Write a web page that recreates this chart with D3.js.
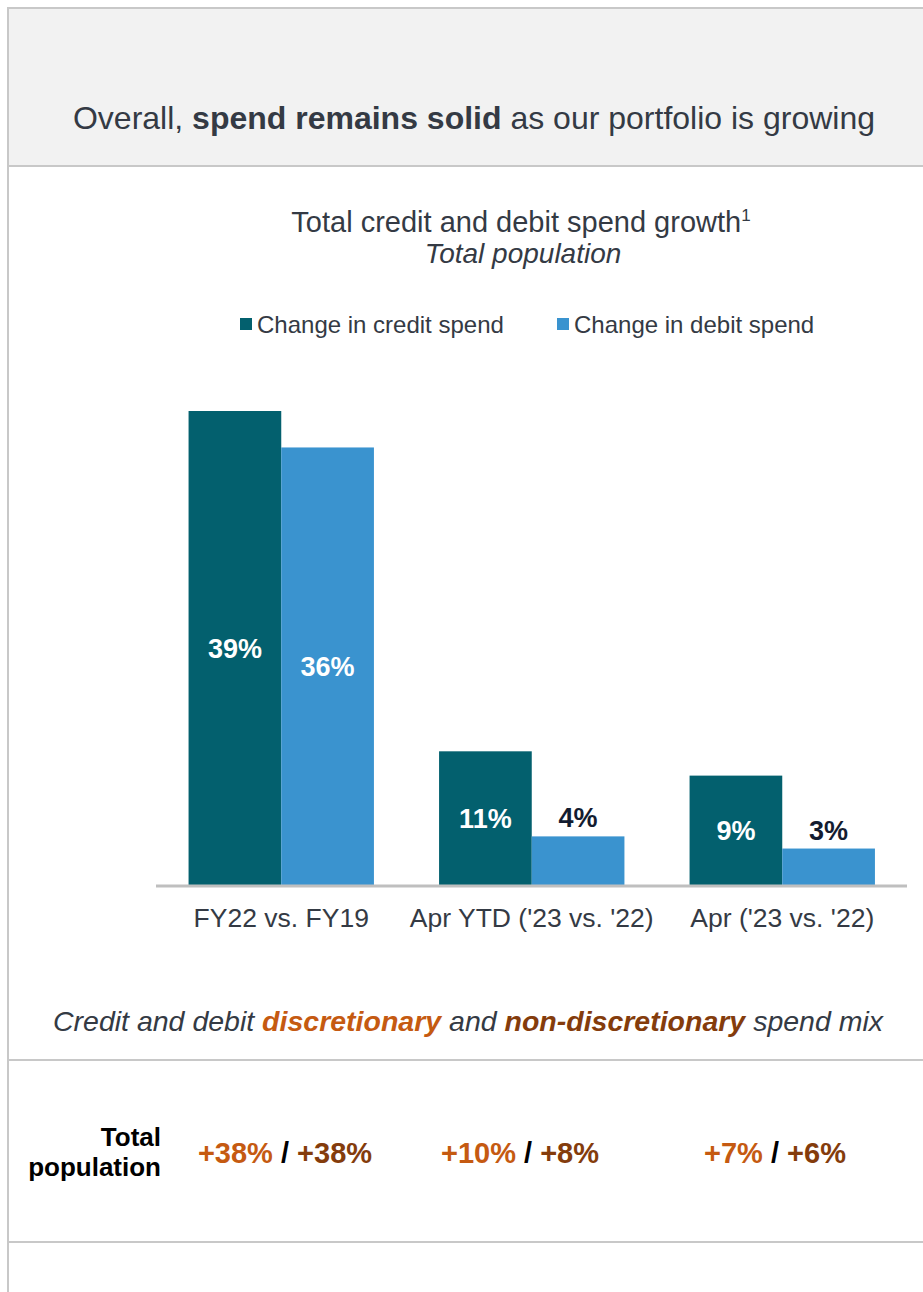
<!DOCTYPE html>
<html>
<head>
<meta charset="utf-8">
<script src="https://cdn.jsdelivr.net/npm/d3@7"></script>
<style>
  html, body { margin: 0; padding: 0; background: #fff; }
  svg { display: block; font-family: "Liberation Sans", Arial, sans-serif; }
</style>
</head>
<body>
<svg id="chart" width="923" height="1292"></svg>
<script>
// Spend growth by period
const categories = ["FY22 vs. FY19", "Apr YTD ('23 vs. '22)", "Apr ('23 vs. '22)"];
const seriesNames = ["Change in credit spend", "Change in debit spend"];
const creditValues = [39, 11, 9];
const debitValues = [36, 4, 3];
// Discretionary / non-discretionary mix per period
const discretionaryMix = [38, 10, 7];
const nonDiscretionaryMix = [38, 8, 6];

const colors = { credit: "#03606e", debit: "#3a93cf", text: "#343a44", rule: "#c8c8c8",
                 disc: "#c55a11", nondisc: "#843c0c" };

const svg = d3.select("#chart");
const W = 923, H = 1292;

// Header panel and frame
svg.append("rect").attr("x", 9).attr("y", 9).attr("width", W - 9).attr("height", 157).attr("fill", "#f2f2f2");
svg.append("line").attr("x1", 8).attr("x2", W).attr("y1", 8).attr("y2", 8).attr("stroke", colors.rule).attr("stroke-width", 2);
svg.append("line").attr("x1", 8).attr("x2", W).attr("y1", 166).attr("y2", 166).attr("stroke", colors.rule).attr("stroke-width", 2);
svg.append("line").attr("x1", 8).attr("x2", 8).attr("y1", 7).attr("y2", H).attr("stroke", colors.rule).attr("stroke-width", 2);
svg.append("line").attr("x1", 8).attr("x2", W).attr("y1", 1060).attr("y2", 1060).attr("stroke", colors.rule).attr("stroke-width", 2);
svg.append("line").attr("x1", 8).attr("x2", W).attr("y1", 1242).attr("y2", 1242).attr("stroke", colors.rule).attr("stroke-width", 2);

const headline = svg.append("text").attr("x", 474).attr("y", 129).attr("text-anchor", "middle")
  .attr("font-size", 32).attr("fill", colors.text);
headline.append("tspan").text("Overall, ");
headline.append("tspan").attr("font-weight", "bold").text("spend remains solid");
headline.append("tspan").text(" as our portfolio is growing");

// Chart titles
const title = svg.append("text").attr("x", 521).attr("y", 232).attr("text-anchor", "middle")
  .attr("font-size", 29).attr("fill", colors.text);
title.append("tspan").text("Total credit and debit spend growth");
title.append("tspan").attr("font-size", 17).attr("dy", -11).text("1");
svg.append("text").attr("x", 523).attr("y", 263).attr("text-anchor", "middle")
  .attr("font-size", 28).attr("font-style", "italic").attr("fill", colors.text).text("Total population");

// Legend
const legendX = [240, 557];
const legendColors = [colors.credit, colors.debit];
seriesNames.forEach((name, i) => {
  const g = svg.append("g").attr("transform", `translate(${legendX[i]},318)`);
  g.append("rect").attr("width", 12).attr("height", 12).attr("fill", legendColors[i]);
  g.append("text").attr("x", 17).attr("y", 15).attr("font-size", 24).attr("fill", colors.text).text(name);
});

// Scales
const baseY = 885;
const x0 = d3.scaleBand().domain(categories).range([156.5, 907]).paddingInner(0.26).paddingOuter(0.128);
const x1 = d3.scaleBand().domain(["credit", "debit"]).range([0, x0.bandwidth()]);
const y = d3.scaleLinear().domain([0, 39]).range([baseY, 411]);

const rows = categories.map((c, i) => ({ cat: c, credit: creditValues[i], debit: debitValues[i] }));

const groups = svg.append("g").selectAll("g").data(rows).join("g")
  .attr("transform", d => `translate(${x0(d.cat)},0)`);

const pairs = d => [{ key: "credit", v: d.credit }, { key: "debit", v: d.debit }];

groups.selectAll("rect").data(pairs)
  .join("rect")
  .attr("x", d => x1(d.key))
  .attr("y", d => y(d.v))
  .attr("width", x1.bandwidth())
  .attr("height", d => baseY - y(d.v))
  .attr("fill", d => colors[d.key]);

// Value labels: inside the bar when it is tall enough, otherwise above it
const inside = d => baseY - y(d.v) > 80;
groups.selectAll("text.val").data(pairs)
  .join("text").attr("class", "val")
  .attr("x", d => x1(d.key) + x1.bandwidth() / 2)
  .attr("y", d => inside(d) ? (y(d.v) + baseY) / 2 + 10 : y(d.v) - 9)
  .attr("text-anchor", "middle")
  .attr("font-size", 27).attr("font-weight", "bold")
  .attr("fill", d => inside(d) ? "#fff" : "#131c30")
  .text(d => d.v + "%");

// Baseline and category axis
svg.append("line").attr("x1", 156).attr("x2", 907).attr("y1", baseY + 1).attr("y2", baseY + 1)
  .attr("stroke", "#bfbfbf").attr("stroke-width", 3);
const axis = svg.append("g").attr("transform", `translate(0,${baseY})`)
  .call(d3.axisBottom(x0).tickSize(0).tickPadding(23));
axis.select(".domain").remove();
axis.selectAll("text").attr("font-size", 26.5).attr("fill", colors.text)
  .attr("font-family", "Liberation Sans, Arial, sans-serif");

// Spend mix subtitle
const sub = svg.append("text").attr("x", 468).attr("y", 1031).attr("text-anchor", "middle")
  .attr("font-size", 28.5).attr("font-style", "italic").attr("fill", colors.text);
sub.append("tspan").text("Credit and debit ");
sub.append("tspan").attr("font-weight", "bold").attr("fill", colors.disc).text("discretionary");
sub.append("tspan").text(" and ");
sub.append("tspan").attr("font-weight", "bold").attr("fill", colors.nondisc).text("non-discretionary");
sub.append("tspan").text(" spend mix");

// Row label
const rowLabel = svg.append("text").attr("text-anchor", "end").attr("font-size", 26)
  .attr("font-weight", "bold").attr("fill", "#000");
rowLabel.append("tspan").attr("x", 161).attr("y", 1146).text("Total");
rowLabel.append("tspan").attr("x", 161).attr("y", 1176).text("population");

// Mix values under each period
const mixX = [285, 520, 775];
categories.forEach((c, i) => {
  const t = svg.append("text").attr("x", mixX[i]).attr("y", 1163).attr("text-anchor", "middle")
    .attr("font-size", 29).attr("font-weight", "bold");
  t.append("tspan").attr("fill", colors.disc).text(`+${discretionaryMix[i]}%`);
  t.append("tspan").attr("fill", "#000").text(" / ");
  t.append("tspan").attr("fill", colors.nondisc).text(`+${nonDiscretionaryMix[i]}%`);
});
</script>
</body>
</html>
